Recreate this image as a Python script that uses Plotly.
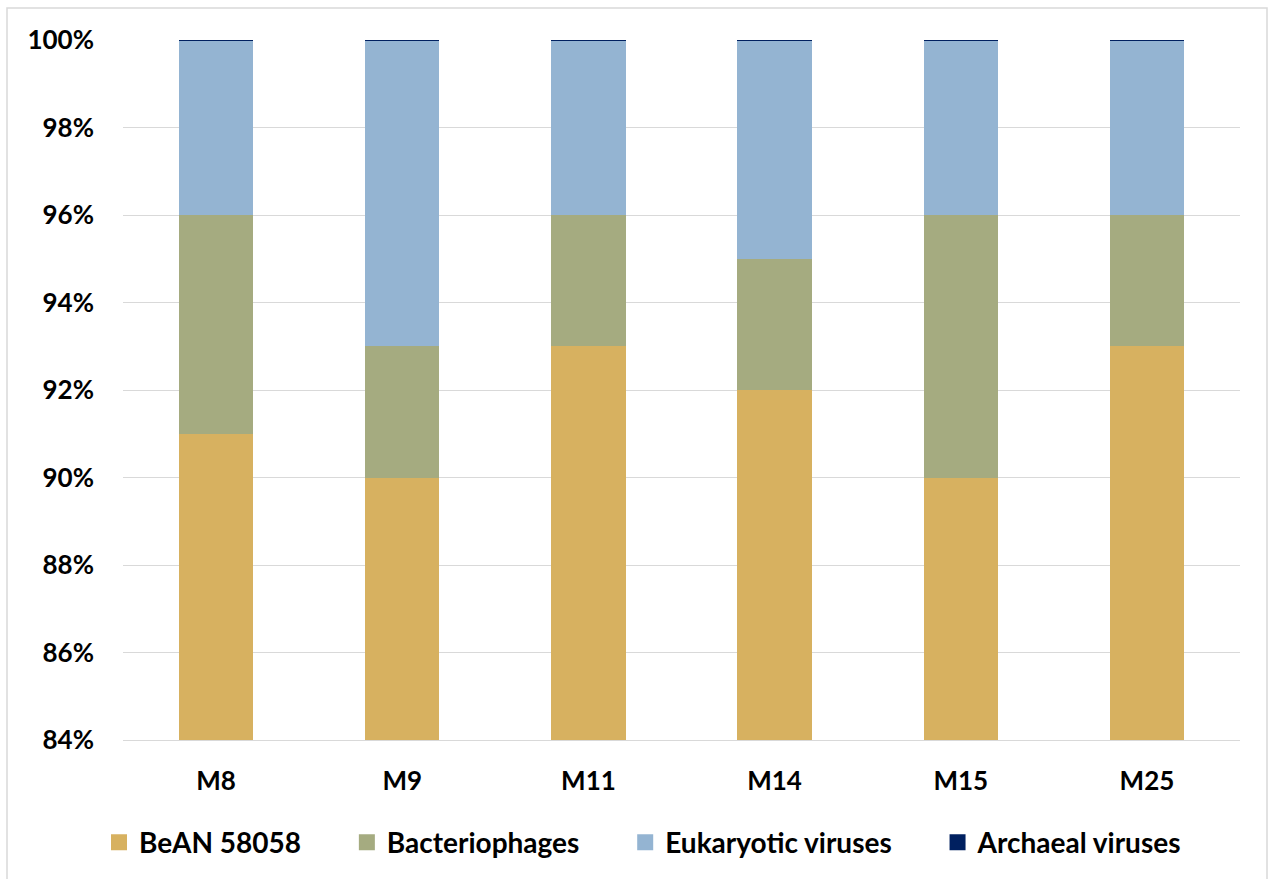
import plotly.graph_objects as go

samples = ["M8", "M9", "M11", "M14", "M15", "M25"]
bean_58058 = [91, 90, 93, 92, 90, 93]
bacteriophages = [5, 3, 3, 3, 6, 3]
eukaryotic_viruses = [3.98, 6.98, 3.98, 4.98, 3.98, 3.98]
archaeal_viruses = [0.02, 0.02, 0.02, 0.02, 0.02, 0.02]

series = [
    ("BeAN 58058", bean_58058, "#D7B160"),
    ("Bacteriophages", bacteriophages, "#A5AB80"),
    ("Eukaryotic viruses", eukaryotic_viruses, "#94B4D2"),
    ("Archaeal viruses", archaeal_viruses, "#002060"),
]

FONT = "Lato"
FSIZE = 26
PAD = "\u00a0" * 6  # extra room between legend entries

fig = go.Figure()
for i, (name, vals, color) in enumerate(series):
    fig.add_trace(go.Bar(
        x=samples, y=vals, name=name, marker_color=color,
        marker_line_width=0, showlegend=False,
    ))
    # square legend swatch
    label = name + (PAD if i < len(series) - 1 else "")
    fig.add_trace(go.Scatter(
        x=[None], y=[None], mode="markers", name=label,
        marker=dict(symbol="square", size=16, color=color),
    ))

fig.update_layout(
    width=1268, height=879,
    barmode="stack", bargap=0.6,
    plot_bgcolor="white", paper_bgcolor="white",
    margin=dict(l=123, r=28, t=40, b=138),
    font=dict(family=FONT, size=FSIZE, color="black"),
    legend=dict(
        orientation="h", x=(643 - 123) / 1117, xanchor="center", y=-0.145, yanchor="middle",
        font=dict(family=FONT, size=28, color="black", weight="bold"),
        itemwidth=30, tracegroupgap=0, traceorder="normal",
    ),
    shapes=[dict(
        type="rect", xref="paper", yref="paper",
        x0=(7 - 123) / 1117, x1=(1267 - 123) / 1117,
        y0=(741 - 900) / 701, y1=(741 - 8) / 701,
        line=dict(color="#D9D9D9", width=1.5), fillcolor="rgba(0,0,0,0)", layer="below",
    )],
)
fig.update_yaxes(
    range=[84, 100], dtick=2, ticksuffix="%",
    showgrid=True, gridcolor="#D9D9D9", gridwidth=1.3,
    zeroline=False, showline=False, ticks="", ticklen=0,
    tickfont=dict(family=FONT, size=FSIZE, color="black", weight="bold"),
    ticklabelstandoff=28,
)
fig.update_xaxes(
    showline=True, linecolor="#D9D9D9", linewidth=1.3, ticks="",
    tickfont=dict(family=FONT, size=FSIZE, color="black", weight="bold"),
    ticklabelstandoff=18,
)

fig.write_html("out.html")
